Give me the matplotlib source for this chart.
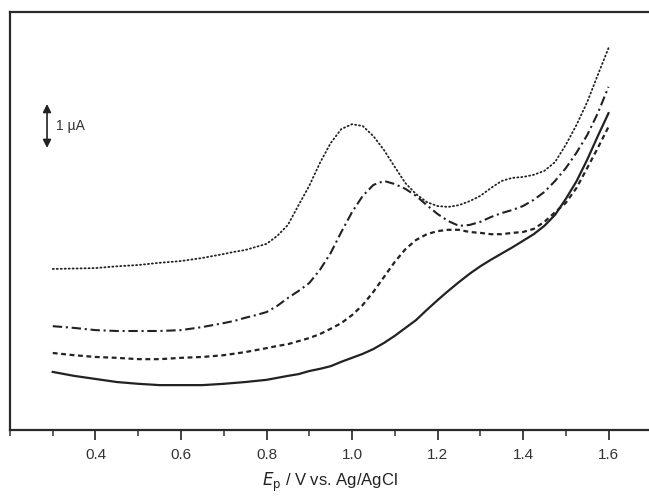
import matplotlib
matplotlib.use("Agg")
import matplotlib.pyplot as plt
from matplotlib.ticker import MultipleLocator

plt.rcParams['font.family'] = ['Liberation Sans', 'DejaVu Sans']

# Potential (V vs Ag/AgCl) and current (µA, arbitrary offset)
x_dot = [0.30, 0.35, 0.40, 0.45, 0.50, 0.55, 0.60, 0.65, 0.70, 0.725, 0.75, 0.775, 0.80, 0.825,
         0.85, 0.875, 0.90, 0.925, 0.95, 0.975,
         1.00, 1.025, 1.05, 1.075, 1.10, 1.125, 1.15, 1.175, 1.20, 1.225, 1.25, 1.275,
         1.30, 1.325, 1.35, 1.375, 1.40, 1.425, 1.45, 1.475, 1.50, 1.525, 1.55, 1.575, 1.60]
i_dot = [3.66, 3.67, 3.68, 3.72, 3.75, 3.80, 3.84, 3.91, 4.00, 4.05, 4.09, 4.16, 4.23, 4.41,
         4.66, 5.11, 5.55, 6.07, 6.52, 6.84,
         6.95, 6.91, 6.68, 6.36, 5.98, 5.61, 5.36, 5.18, 5.09, 5.07, 5.11, 5.20,
         5.32, 5.50, 5.66, 5.73, 5.75, 5.80, 5.89, 6.09, 6.48, 6.93, 7.45, 8.07, 8.68]

x_dd = [0.30, 0.35, 0.40, 0.45, 0.50, 0.55, 0.60, 0.65, 0.70, 0.725, 0.75, 0.775, 0.80, 0.825,
        0.85, 0.875, 0.90, 0.925, 0.95, 0.975,
        1.00, 1.025, 1.05, 1.075, 1.10, 1.125, 1.15, 1.175, 1.20, 1.225, 1.25, 1.275,
        1.30, 1.325, 1.35, 1.375, 1.40, 1.425, 1.45, 1.475, 1.50, 1.525, 1.55, 1.575, 1.60]
i_dd = [2.36, 2.32, 2.27, 2.25, 2.25, 2.25, 2.27, 2.34, 2.43, 2.48, 2.55, 2.61, 2.68, 2.82,
        3.00, 3.16, 3.34, 3.64, 4.02, 4.50,
        4.95, 5.32, 5.57, 5.66, 5.59, 5.48, 5.32, 5.11, 4.91, 4.75, 4.64, 4.66,
        4.73, 4.84, 4.93, 5.00, 5.09, 5.23, 5.41, 5.66, 5.95, 6.30, 6.70, 7.20, 7.80]

x_dash = [0.30, 0.35, 0.40, 0.45, 0.50, 0.55, 0.60, 0.65, 0.70, 0.75, 0.80, 0.825, 0.85,
          0.875, 0.90, 0.925, 0.95, 0.975, 1.00, 1.025, 1.05, 1.075,
          1.10, 1.125, 1.15, 1.175, 1.20, 1.225, 1.25, 1.275, 1.30, 1.325, 1.35, 1.375,
          1.40, 1.425, 1.45, 1.475, 1.50, 1.525, 1.55, 1.575, 1.60]
i_dash = [1.75, 1.70, 1.66, 1.64, 1.61, 1.61, 1.64, 1.66, 1.70, 1.77, 1.86, 1.91, 1.95,
          2.02, 2.09, 2.18, 2.30, 2.43, 2.61, 2.84, 3.14, 3.48,
          3.82, 4.11, 4.32, 4.45, 4.52, 4.55, 4.55, 4.50, 4.48, 4.45, 4.45, 4.48,
          4.50, 4.57, 4.73, 4.95, 5.16, 5.50, 5.95, 6.41, 6.89]

x_sol = [0.30, 0.35, 0.40, 0.45, 0.50, 0.55, 0.60, 0.65, 0.70, 0.75, 0.80, 0.85, 0.875,
         0.90, 0.925, 0.95, 0.975, 1.00, 1.025, 1.05, 1.075, 1.10, 1.125, 1.15, 1.175,
         1.20, 1.225, 1.25, 1.275, 1.30, 1.325, 1.35, 1.375, 1.40, 1.425, 1.45, 1.475,
         1.50, 1.525, 1.55, 1.575, 1.60]
i_sol = [1.32, 1.23, 1.16, 1.09, 1.05, 1.02, 1.02, 1.02, 1.05, 1.09, 1.14, 1.23, 1.27,
         1.34, 1.39, 1.45, 1.55, 1.64, 1.73, 1.84, 1.98, 2.14, 2.32, 2.50, 2.73,
         2.95, 3.16, 3.36, 3.55, 3.72, 3.87, 4.01, 4.15, 4.30, 4.45, 4.64, 4.89,
         5.25, 5.65, 6.14, 6.68, 7.20]

xticks = [0.4, 0.6, 0.8, 1.0, 1.2, 1.4, 1.6]
xticklabels = ["0.4", "0.6", "0.8", "1.0", "1.2", "1.4", "1.6"]

fig = plt.figure(figsize=(6.49, 4.99), dpi=100)
ax = fig.add_axes([10/649, 69/499, 639/649, (430-12)/499])

c = '#222222'
ax.plot(x_dot, i_dot, color=c, lw=1.3, linestyle=(0, (0.6, 1.6)), dash_capstyle='round')
ax.plot(x_dd, i_dd, color=c, lw=1.5, linestyle=(0, (4.5, 1.8, 1.0, 1.8)))
ax.plot(x_dash, i_dash, color=c, lw=1.6, linestyle=(0, (2.2, 1.6)))
ax.plot(x_sol, i_sol, color=c, lw=1.6)

ax.set_xlim(0.2, 0.2 + 639/427.5)
ax.set_ylim(0, 418/44)

ax.set_xticks(xticks)
ax.set_xticklabels(xticklabels)
ax.xaxis.set_minor_locator(MultipleLocator(0.1))
ax.set_yticks([])
ax.tick_params(axis='x', which='major', direction='out', length=7, width=1.3,
               labelsize=11, colors='#333333', pad=6)
ax.tick_params(axis='x', which='minor', direction='out', length=4, width=1.1, colors='#333333')
for s in ['left', 'bottom', 'top']:
    ax.spines[s].set_linewidth(1.6)
    ax.spines[s].set_color('#2a2a2a')
ax.spines['right'].set_visible(False)

ax.set_xlabel(r"$\mathit{E}_\mathrm{p}$ / V vs. Ag/AgCl", fontsize=12, color='#222222', labelpad=6)

# scale bar 1 µA
ax.annotate('', xy=(0.2866, 7.41), xytext=(0.2866, 6.41),
            arrowprops=dict(arrowstyle='<|-|>', color='#222222', lw=1.2,
                            mutation_scale=12, shrinkA=0, shrinkB=0))
ax.text(0.308, 6.91, "1 µA", fontsize=10, color='#333333', va='center', ha='left')

fig.savefig("out.png", dpi=100)
